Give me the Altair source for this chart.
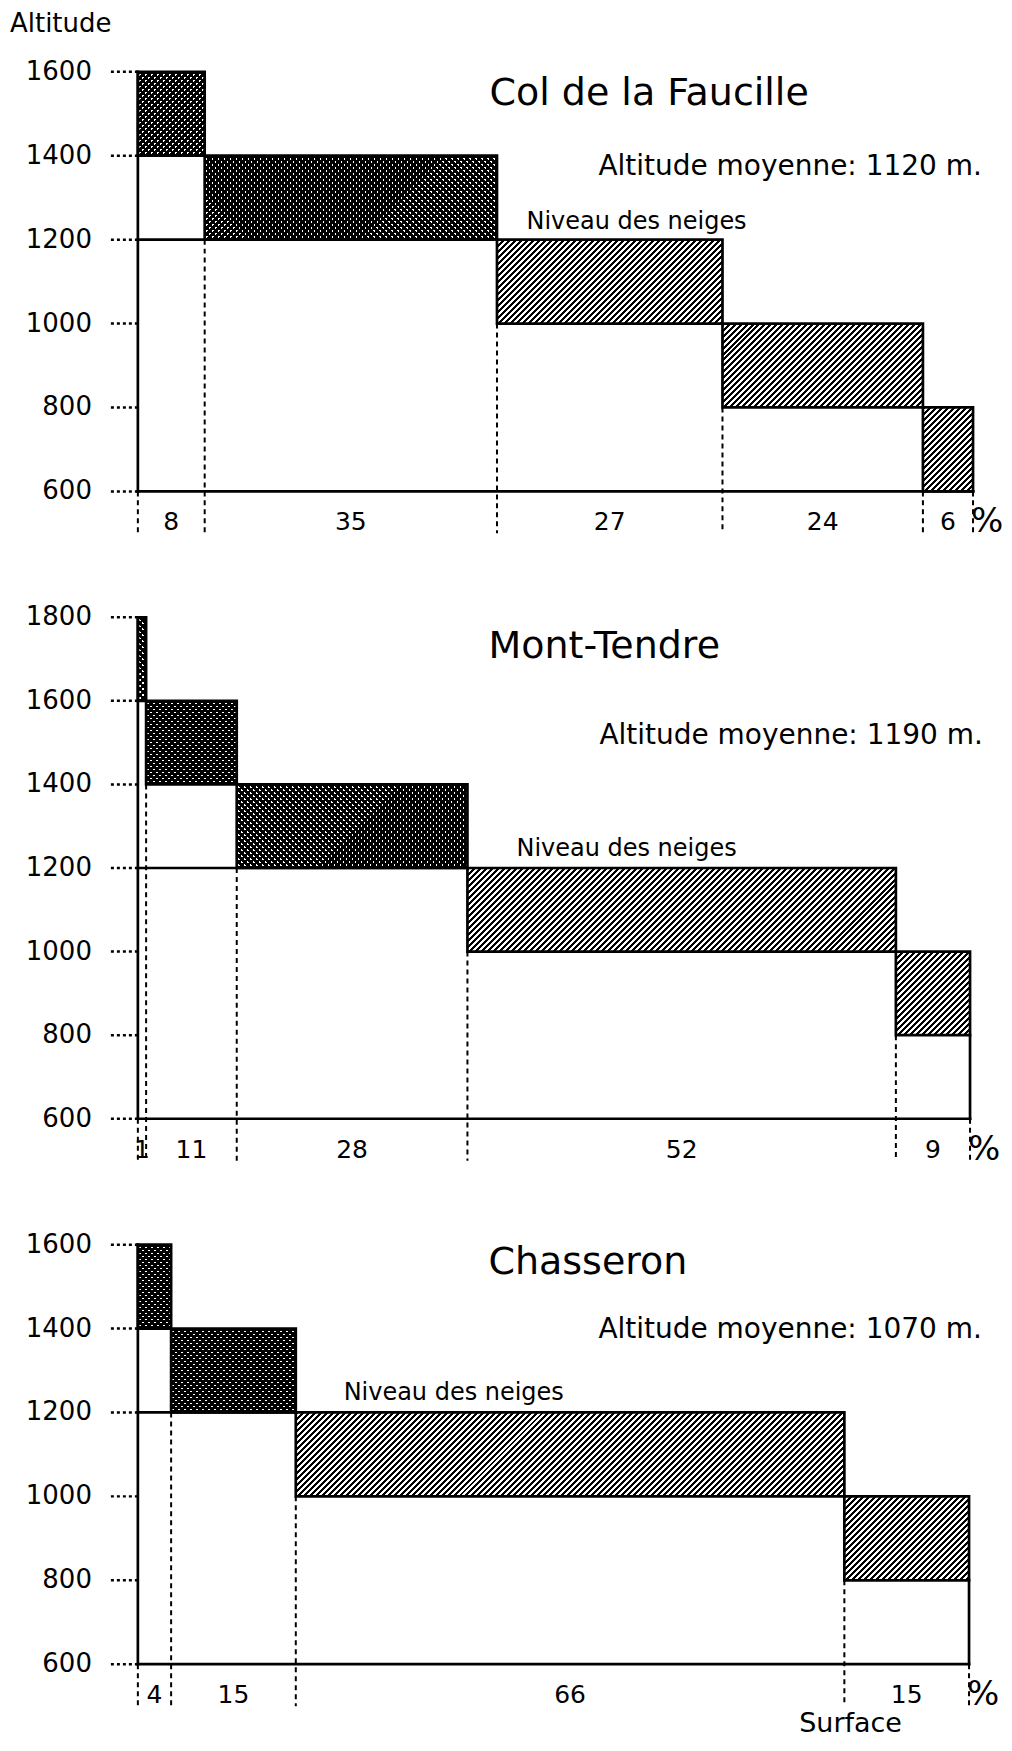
import math
import altair as alt
import pandas as pd

FONT = "DejaVu Sans"

# ---------------- data ----------------
titles = ["Col de la Faucille", "Mont-Tendre", "Chasseron"]
mean_altitudes = [1120, 1190, 1070]

faucille_pct = [8, 35, 27, 24, 6]
faucille_low = [1400, 1200, 1000, 800, 600]

tendre_pct = [1, 11, 28, 52, 9]
tendre_low = [1600, 1400, 1200, 1000, 800]

chasseron_pct = [4, 15, 66, 15]
chasseron_low = [1400, 1200, 1000, 800]

ticks_faucille = [600, 800, 1000, 1200, 1400, 1600]
ticks_tendre = [600, 800, 1000, 1200, 1400, 1600, 1800]
ticks_chasseron = [600, 800, 1000, 1200, 1400, 1600]

class_interval = 200
base_altitude = 600
snow_level = 1200
snow_label = "Niveau des neiges"
y_title = "Altitude"
x_title = "Surface"
unit_label = "%"


# ---------------- helpers ----------------
def stripe_fill(W, H, spacing, dark_frac, forward=True, light="white"):
    """45-degree stripes (exact pixel period) as a linear gradient."""
    n = max(1, math.ceil((W + H) / spacing))
    k = n * spacing / (W * W + H * H)
    if forward:   # "/"
        x1, y1, x2, y2 = 0, 0, k * W, k * H
    else:         # "\"
        x1, y1, x2, y2 = 0, 1, k * W, 1 - k * H
    stops = []
    for i in range(n):
        a = i / n
        b = (i + dark_frac) / n
        c = (i + 1) / n
        stops += [
            alt.GradientStop(offset=a, color="black"),
            alt.GradientStop(offset=b, color="black"),
            alt.GradientStop(offset=b, color=light),
            alt.GradientStop(offset=c, color=light),
        ]
    return alt.LinearGradient(gradient="linear", stops=stops,
                              x1=x1, y1=y1, x2=x2, y2=y2)


def panel(idx, pct, low, ticks, width, height, title_pos, sub_pos, snow_pos,
          show_ytitle=False, show_xtitle=False):
    total = sum(pct)
    df = pd.DataFrame({"pct": pct, "low": low})
    df["x1"] = df["pct"].cumsum()
    df["x0"] = df["x1"] - df["pct"]
    df["high"] = df["low"] + class_interval
    df["mid"] = (df["x0"] + df["x1"]) / 2
    df["label"] = df["pct"].astype(str)
    ymax = max(ticks)

    xs = alt.Scale(domain=[0, total], nice=False, zero=False)
    ys = alt.Scale(domain=[base_altitude, ymax], nice=False, zero=False)

    def X(f):
        return alt.X(f, scale=xs, axis=None)

    def Y(f):
        return alt.Y(f, scale=ys, axis=None)

    px_per_x = width / total
    band_h = class_interval * height / (ymax - base_altitude)

    layers = []
    # hatched fills
    for _, r in df.iterrows():
        W = r["pct"] * px_per_x
        one = pd.DataFrame([r])
        enc = dict(x=X("x0:Q"), x2="x1", y=Y("low:Q"), y2="high")
        if r["low"] >= snow_level:
            layers.append(alt.Chart(one).mark_rect(
                fill=stripe_fill(W, band_h, 6, 0.64, True, "white"),
                strokeWidth=0).encode(**enc))
            layers.append(alt.Chart(one).mark_rect(
                fill=stripe_fill(W, band_h, 6, 0.64, False, "transparent"),
                strokeWidth=0).encode(**enc))
        else:
            layers.append(alt.Chart(one).mark_rect(
                fill=stripe_fill(W, band_h, 6, 0.5, True, "white"),
                strokeWidth=0).encode(**enc))

    # band outlines
    layers.append(alt.Chart(df).mark_rect(
        fillOpacity=0, stroke="black", strokeWidth=2.7).encode(
        x=X("x0:Q"), x2="x1", y=Y("low:Q"), y2="high"))

    # dotted verticals (boundaries) continuing below the axis
    vt = pd.DataFrame({
        "x": [0] + list(df["x0"][1:]) + [total],
        "top": [base_altitude] + list(df["low"][1:]) + [base_altitude],
    })
    layers.append(alt.Chart(vt).mark_rule(
        strokeDash=[5, 4], strokeWidth=2, color="black").encode(
        x=X("x:Q"), y=Y("top:Q"), y2=alt.value(height + 42)))

    # frame: altitude axis, surface axis, right edge, snow line
    above = df[df["low"] >= snow_level]
    frame = pd.DataFrame({
        "xa": [0, 0, total, 0],
        "xb": [0, total, total, above["x1"].max()],
        "ya": [base_altitude, base_altitude, base_altitude, snow_level],
        "yb": [ymax, base_altitude, df["low"].iloc[-1], snow_level],
    })
    layers.append(alt.Chart(frame).mark_rule(
        strokeWidth=2.7, color="black", strokeCap="square").encode(
        x=X("xa:Q"), x2="xb", y=Y("ya:Q"), y2="yb"))

    # altitude ticks (dotted) and labels
    tk = pd.DataFrame({"v": ticks, "lab": [str(t) for t in ticks]})
    layers.append(alt.Chart(tk).mark_rule(
        strokeDash=[3, 3], strokeWidth=2.5, color="black").encode(
        y=Y("v:Q"), x=alt.value(-27), x2=alt.value(0)))
    layers.append(alt.Chart(tk).mark_text(
        font=FONT, fontSize=26, color="black", align="right",
        baseline="middle").encode(
        y=Y("v:Q"), x=alt.value(-46), text="lab:N"))

    # percentage labels
    layers.append(alt.Chart(df).mark_text(
        font=FONT, fontSize=25, color="black", baseline="middle").encode(
        x=X("mid:Q"), y=alt.value(height + 31), text="label:N"))
    layers.append(alt.Chart(pd.DataFrame({"t": [unit_label]})).mark_text(
        font=FONT, fontSize=34, color="black", baseline="middle").encode(
        x=alt.value(width + 14), y=alt.value(height + 31), text="t:N"))

    # titles
    texts = pd.DataFrame({
        "t": [titles[idx], f"Altitude moyenne: {mean_altitudes[idx]} m.",
              snow_label, y_title, x_title],
    })
    layers.append(alt.Chart(texts.iloc[[0]]).mark_text(
        font=FONT, fontSize=38, color="black", align="left", baseline="middle").encode(
        x=alt.value(title_pos[0]), y=alt.value(title_pos[1]), text="t:N"))
    layers.append(alt.Chart(texts.iloc[[1]]).mark_text(
        font=FONT, fontSize=28, color="black", align="left", baseline="middle").encode(
        x=alt.value(sub_pos[0]), y=alt.value(sub_pos[1]), text="t:N"))
    layers.append(alt.Chart(texts.iloc[[2]]).mark_text(
        font=FONT, fontSize=24, color="black", align="left", baseline="middle").encode(
        x=alt.value(snow_pos[0]), y=alt.value(snow_pos[1]), text="t:N"))
    if show_ytitle:
        layers.append(alt.Chart(texts.iloc[[3]]).mark_text(
            font=FONT, fontSize=26, color="black", align="left",
            baseline="middle").encode(
            x=alt.value(-128), y=alt.value(-48), text="t:N"))
    if show_xtitle:
        layers.append(alt.Chart(texts.iloc[[4]]).mark_text(
            font=FONT, fontSize=27, color="black", align="left",
            baseline="middle").encode(
            x=alt.value(662), y=alt.value(height + 60), text="t:N"))

    return alt.layer(*layers).properties(width=width, height=height)


p1 = panel(0, faucille_pct, faucille_low, ticks_faucille, 836, 420,
           (352, 22), (461, 95), (389, 150), show_ytitle=True)
p2 = panel(1, tendre_pct, tendre_low, ticks_tendre, 833, 502,
           (351, 30), (462, 119), (379, 232))
p3 = panel(2, chasseron_pct, chasseron_low, ticks_chasseron, 832, 420,
           (351, 18), (461, 85), (206, 149), show_xtitle=True)

chart = alt.vconcat(p1, p2, p3, spacing=126, bounds="flush").properties(
    padding={"left": 2, "top": 2, "right": 0, "bottom": 0},
    background="white",
).configure_view(strokeOpacity=0)

chart.save("out.html", embed_options={"renderer": "svg", "actions": False})
